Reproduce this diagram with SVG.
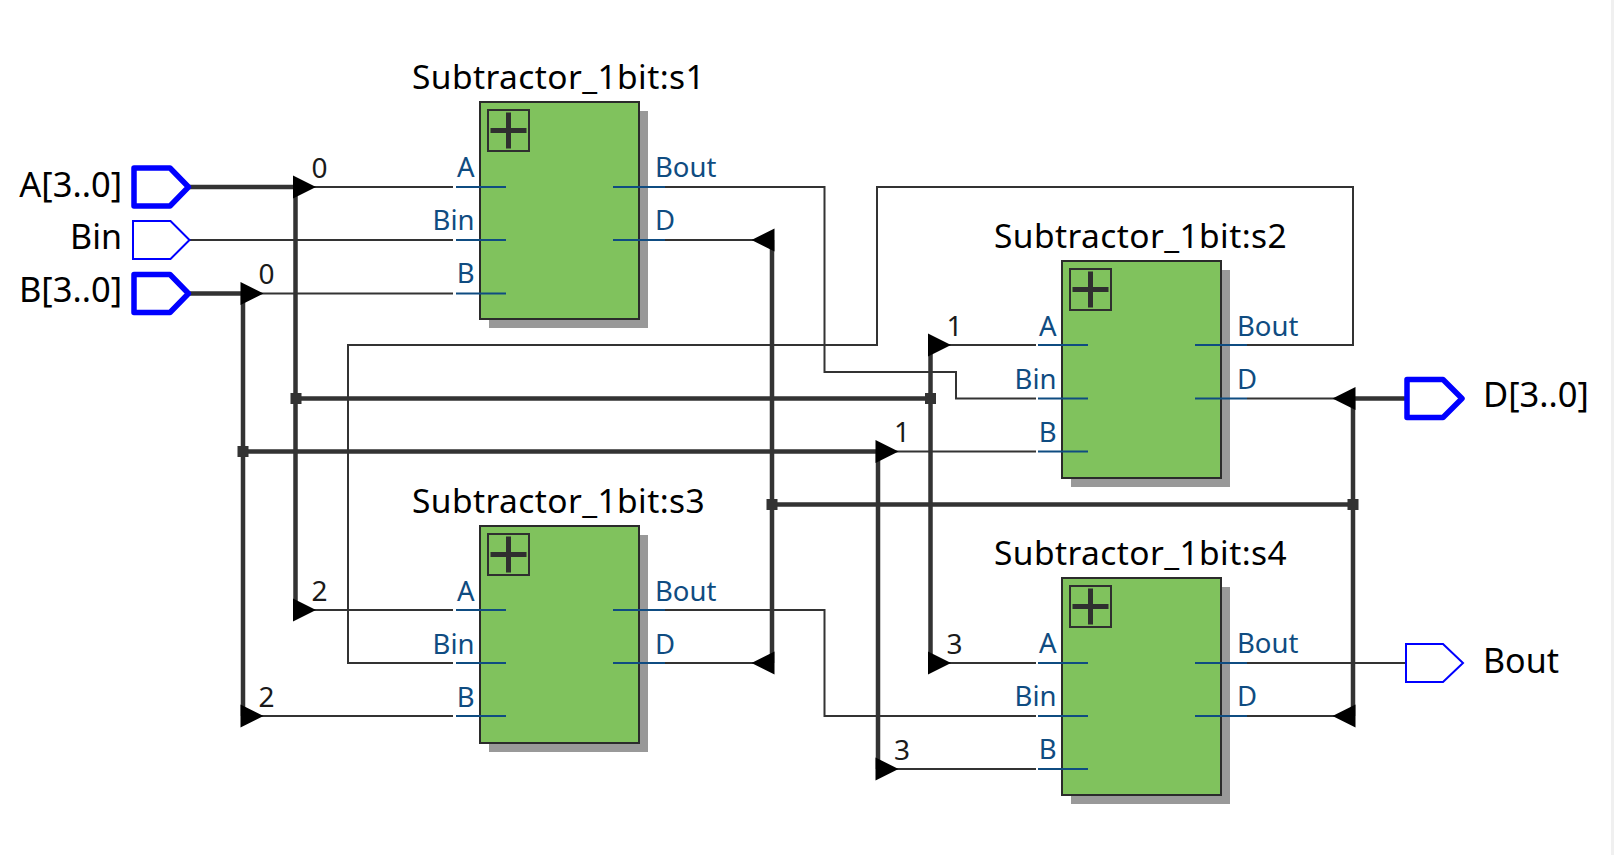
<svg xmlns="http://www.w3.org/2000/svg" width="1614" height="855" viewBox="0 0 1614 855">
<style>
text{font-family:"Noto Sans","Open Sans","Liberation Sans",sans-serif}
.title{font-size:33.500px;fill:#000;letter-spacing:.42px}
.pl{font-size:27.500px;fill:#0f4c81}
.end{text-anchor:end}
.num{font-size:28px;fill:#1a1a1a}
.io{font-size:34.500px;fill:#000}
.io2{font-size:34px;fill:#000}
.body{fill:#80c25d;stroke:#2b2b2b;stroke-width:2}
.shadow{fill:#999}
.sub{stroke:#0f4c81;stroke-width:2;fill:none}
.box{fill:none;stroke:#2f2f2f;stroke-width:2}
.plus{fill:none;stroke:#2f2f2f;stroke-width:5}
.wire{fill:none;stroke:#333;stroke-width:2}
.bus{fill:none;stroke:#333;stroke-width:4.500}
.tri{fill:#000}
.dot{fill:#333}
.pin{fill:#fff;stroke:#0000ff;stroke-width:2}
.pinb{fill:#fff;stroke:#0000ff;stroke-width:5.500;stroke-linejoin:round}
</style>
<defs>
<g id="blockbase">
<rect class="shadow" x="9" y="9" width="159" height="217"/>
<rect class="body" x="0" y="0" width="159" height="217"/>
<rect class="box" x="8" y="8" width="41" height="41"/>
<path class="plus" d="M10.500 28.500H46.500M28.500 10.500V46.500"/>
</g>
<polygon id="tr" class="tri" points="0,-11.500 23,0 0,11.500"/>
<polygon id="tl" class="tri" points="0,-11.500 -23,0 0,11.500"/>
<rect id="dt" class="dot" x="-5.500" y="-5.500" width="11" height="11"/>
</defs>
<rect x="0" y="0" width="1614" height="855" fill="#fff"/>
<rect x="1611" y="0" width="3" height="855" fill="#f0f0f0"/>
<g id="connectors">
<path class="bus" d="M190 187H295.500V610M190 293.500H243V716M296 398.500H930.500M930.500 345V663M243 451.500H878M878 451.500V769M772 240V663M772 504.500H1353M1406 398.500H1353V716"/>
<path class="wire" d="M295 187H453M190 240H453M243 293.500H453M612 187H824.500V372H956V398.500H1036M930 345H1036M878 451.500H1036M612 240H772M1247 345H1353V187H877V345H348V663H453M295 610H453M243 716H453M612 610H824.500V716H1036M612 663H772M930 663H1036M878 769H1036M1247 663H1406M1247 398.500H1353M1247 716H1353"/>
<use href="#tr" x="293" y="187"/>
<use href="#tr" x="240.500" y="293.500"/>
<use href="#tr" x="928" y="345"/>
<use href="#tr" x="875.500" y="451.500"/>
<use href="#tr" x="293" y="610"/>
<use href="#tr" x="240.500" y="716"/>
<use href="#tr" x="928" y="663"/>
<use href="#tr" x="875.500" y="769"/>
<use href="#tl" x="774.500" y="240"/>
<use href="#tl" x="774.500" y="663"/>
<use href="#tl" x="1355.500" y="398.500"/>
<use href="#tl" x="1355.500" y="716"/>
<use href="#dt" x="296" y="398.500"/>
<use href="#dt" x="930.500" y="398.500"/>
<use href="#dt" x="243" y="451.500"/>
<use href="#dt" x="772" y="504.500"/>
<use href="#dt" x="1353" y="504.500"/>
<text class="num" x="319.500" y="177.500" text-anchor="middle">0</text>
<text class="num" x="266.500" y="283.500" text-anchor="middle">0</text>
<text class="num" x="954.500" y="336" text-anchor="middle">1</text>
<text class="num" x="902" y="442" text-anchor="middle">1</text>
<text class="num" x="319.500" y="600.500" text-anchor="middle">2</text>
<text class="num" x="266.500" y="706.500" text-anchor="middle">2</text>
<text class="num" x="954.500" y="654" text-anchor="middle">3</text>
<text class="num" x="902" y="760" text-anchor="middle">3</text>
</g>
<g id="s1" transform="translate(480,102)">
<use href="#blockbase"/>
<path class="sub" d="M-24 85H26M-24 138H26M-24 191.500H26M133 85H185M133 138H185"/>
<text class="title" x="-68" y="-13">Subtractor_1bit:s1</text>
<text class="pl end" x="-5.500" y="75">A</text><text class="pl end" x="-5.500" y="128">Bin</text><text class="pl end" x="-5.500" y="181">B</text>
<text class="pl" x="175" y="75">Bout</text><text class="pl" x="175" y="128">D</text>
</g>
<g id="s2" transform="translate(1062,261)">
<use href="#blockbase"/>
<path class="sub" d="M-24 84H26M-24 137.500H26M-24 190.500H26M133 84H185M133 137.500H185"/>
<text class="title" x="-68" y="-13">Subtractor_1bit:s2</text>
<text class="pl end" x="-5.500" y="75">A</text><text class="pl end" x="-5.500" y="127.500">Bin</text><text class="pl end" x="-5.500" y="180.500">B</text>
<text class="pl" x="175" y="75">Bout</text><text class="pl" x="175" y="127.500">D</text>
</g>
<g id="s3" transform="translate(480,526)">
<use href="#blockbase"/>
<path class="sub" d="M-24 84H26M-24 137H26M-24 190H26M133 84H185M133 137H185"/>
<text class="title" x="-68" y="-13">Subtractor_1bit:s3</text>
<text class="pl end" x="-5.500" y="75">A</text><text class="pl end" x="-5.500" y="128">Bin</text><text class="pl end" x="-5.500" y="181">B</text>
<text class="pl" x="175" y="75">Bout</text><text class="pl" x="175" y="128">D</text>
</g>
<g id="s4" transform="translate(1062,578)">
<use href="#blockbase"/>
<path class="sub" d="M-24 85H26M-24 138H26M-24 191H26M133 85H185M133 138H185"/>
<text class="title" x="-68" y="-13">Subtractor_1bit:s4</text>
<text class="pl end" x="-5.500" y="75">A</text><text class="pl end" x="-5.500" y="128">Bin</text><text class="pl end" x="-5.500" y="181">B</text>
<text class="pl" x="175" y="75">Bout</text><text class="pl" x="175" y="128">D</text>
</g>
<g id="in-A"><polygon class="pinb" points="134,168 170,168 188.500,187 170,206 134,206"/><text class="io end" x="122" y="196.500">A[3..0]</text></g>
<g id="in-Bin"><polygon class="pin" points="133,221 170.500,221 189.500,240 170.500,259 133,259"/><text class="io2 end" x="122" y="249">Bin</text></g>
<g id="in-B"><polygon class="pinb" points="134,274.500 170,274.500 188.500,293.500 170,312.500 134,312.500"/><text class="io end" x="122" y="302">B[3..0]</text></g>
<g id="out-D"><polygon class="pinb" points="1407,379.500 1443,379.500 1462,398.500 1443,417.500 1407,417.500"/><text class="io" x="1483" y="407">D[3..0]</text></g>
<g id="out-Bout"><polygon class="pin" points="1406,644 1443,644 1463,663 1443,682 1406,682"/><text class="io2" x="1483" y="673">Bout</text></g>
</svg>
